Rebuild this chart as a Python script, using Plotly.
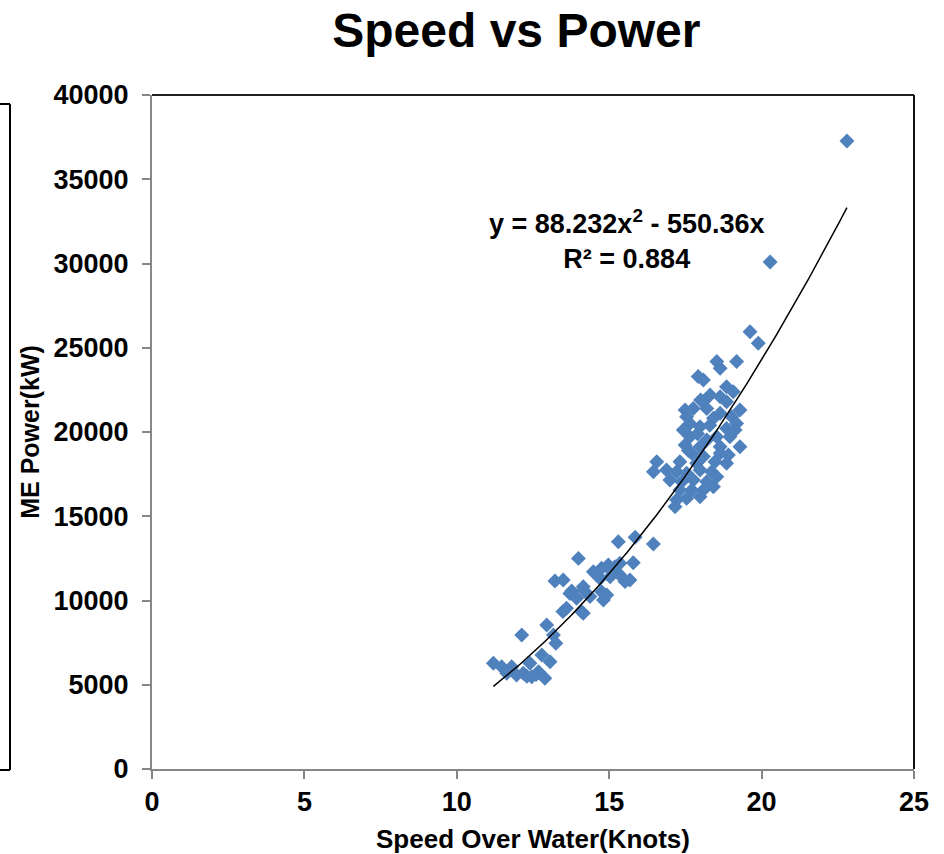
import numpy as np
import plotly.graph_objects as go

speed = [
    11.20, 11.47, 11.80, 11.64, 11.96, 12.18, 12.40, 12.46, 12.68, 12.89,
    12.13, 12.79, 13.06, 12.95, 13.17, 13.25, 12.30, 12.60,
    13.22, 13.49, 13.60, 13.48, 13.77, 13.71, 13.93, 13.99, 14.15, 14.15,
    14.09, 14.15, 14.37, 14.48, 14.75, 14.97, 15.19, 15.35, 14.70, 15.03,
    15.35, 15.52, 15.68, 14.75, 14.81, 14.92, 15.30, 15.85, 16.45, 15.79,
    15.10, 14.60,
    22.80, 20.28, 19.62, 19.89, 18.53, 19.18, 18.64, 17.92, 18.09, 18.85,
    19.07, 18.31, 18.64, 18.09, 17.49, 17.76, 18.20, 18.85, 19.29, 18.64,
    18.42, 19.02, 19.18, 17.54, 17.65, 17.98, 17.43, 18.85, 19.13, 17.65,
    18.20, 18.53, 18.96, 17.49, 17.98, 18.64, 19.29, 17.71, 18.09, 18.64,
    18.91, 16.56, 17.32, 17.87, 18.47, 18.85, 16.45, 16.88, 17.21, 17.54,
    17.98, 18.36, 16.99, 17.38, 17.76, 18.20, 18.53, 17.32, 17.71, 18.09,
    18.42, 17.21, 17.54, 17.98, 17.16, 17.90, 18.30, 17.60, 18.00,
]
power = [
    6270, 6070, 6070, 5680, 5580, 5680, 6270, 5480, 5770, 5380,
    7950, 6770, 6370, 8550, 7950, 7460, 5500, 5600,
    11160, 11220, 9540, 9340, 10560, 10420, 10130, 12500, 10620, 10820,
    9340, 9240, 10230, 11710, 11910, 12110, 12010, 12210, 11310, 11410,
    11510, 11120, 11220, 10520, 10030, 10330, 13490, 13750, 13350, 12240,
    11700, 11500,
    37270, 30090, 25950, 25270, 24180, 24180, 23780, 23290, 23090, 22690,
    22390, 22200, 22090, 21800, 21300, 21400, 21400, 21800, 21300, 21110,
    20810, 20900, 20510, 20900, 20510, 20310, 20120, 20210, 20120, 19720,
    19530, 19720, 19720, 19230, 19130, 19130, 19130, 18740, 18540, 18740,
    18640, 18240, 18240, 18140, 18240, 18140, 17640, 17740, 17640, 17550,
    17740, 17640, 17150, 17050, 17150, 17050, 17350, 16560, 16560, 16560,
    16750, 15960, 16060, 16160, 15570, 19900, 20400, 18900, 21900,
]

coef_a = 88.232
coef_b = -550.36
trend_x = np.linspace(min(speed), max(speed), 200)
trend_y = coef_a * trend_x ** 2 + coef_b * trend_x

x_ticks = [0, 5, 10, 15, 20, 25]
y_ticks = [0, 5000, 10000, 15000, 20000, 25000, 30000, 35000, 40000]

FONT = "Liberation Sans, Arial, sans-serif"

fig = go.Figure()
fig.add_trace(go.Scatter(
    x=speed, y=power, mode="markers",
    marker=dict(symbol="diamond", size=11.5, color="#4F81BD", line=dict(width=0)),
    showlegend=False,
))
fig.add_trace(go.Scatter(
    x=trend_x, y=trend_y, mode="lines",
    line=dict(color="black", width=1.5), showlegend=False,
))

axis_font = dict(family=FONT, size=27, color="black", weight="bold")

fig.update_layout(
    width=944, height=854,
    margin=dict(l=152, r=30, t=95, b=85),
    paper_bgcolor="white", plot_bgcolor="white",
    title=dict(text="<b>Speed vs Power</b>", x=0.547, xref="container",
               xanchor="center", y=0.965, yanchor="middle",
               font=dict(family=FONT, size=48, color="black")),
    xaxis=dict(
        range=[0, 25], tickvals=x_ticks, ticktext=[str(v) for v in x_ticks],
        showgrid=False, zeroline=False, showline=True, linecolor="#868686",
        linewidth=2, ticks="outside", ticklen=8, tickcolor="#868686", tickwidth=2,
        tickfont=axis_font, automargin=False,
        title=dict(text="<b>Speed Over Water(Knots)</b>", standoff=14,
                   font=dict(family=FONT, size=26, color="black")),
    ),
    yaxis=dict(
        range=[0, 40000], tickvals=y_ticks, ticktext=[str(v) for v in y_ticks],
        showgrid=False, zeroline=False, showline=True, linecolor="#868686",
        linewidth=2, ticks="outside", ticklen=8, tickcolor="#868686", tickwidth=2,
        tickfont=axis_font, ticklabelstandoff=8, automargin=False,
        title=dict(text="<b>ME Power(kW)</b>", standoff=7,
                   font=dict(family=FONT, size=25, color="black")),
    ),
    shapes=[
        dict(type="line", xref="paper", yref="paper", x0=0, x1=1, y0=1, y1=1,
             line=dict(color="#222222", width=2)),
        dict(type="line", xref="paper", yref="paper", x0=1, x1=1, y0=0, y1=1,
             line=dict(color="#111111", width=2)),
        dict(type="line", xref="paper", yref="paper",
             x0=(10 - 152) / 762, x1=(10 - 152) / 762,
             y0=(769 - 770) / 674, y1=(769 - 104) / 674,
             line=dict(color="black", width=2)),
        dict(type="line", xref="paper", yref="paper",
             x0=(-5 - 152) / 762, x1=(10 - 152) / 762,
             y0=(769 - 104) / 674, y1=(769 - 104) / 674,
             line=dict(color="black", width=2)),
        dict(type="line", xref="paper", yref="paper",
             x0=(-5 - 152) / 762, x1=(10 - 152) / 762,
             y0=(769 - 770) / 674, y1=(769 - 770) / 674,
             line=dict(color="black", width=2)),
    ],
    annotations=[
        dict(text="<b>y = 88.232x<sup>2</sup> - 550.36x</b><br><b>R² = 0.884</b>",
             x=15.58, y=31400, xref="x", yref="y", showarrow=False,
             align="center", xanchor="center", yanchor="middle",
             font=dict(family=FONT, size=27, color="black")),
    ],
)

fig.write_html("out.html")
